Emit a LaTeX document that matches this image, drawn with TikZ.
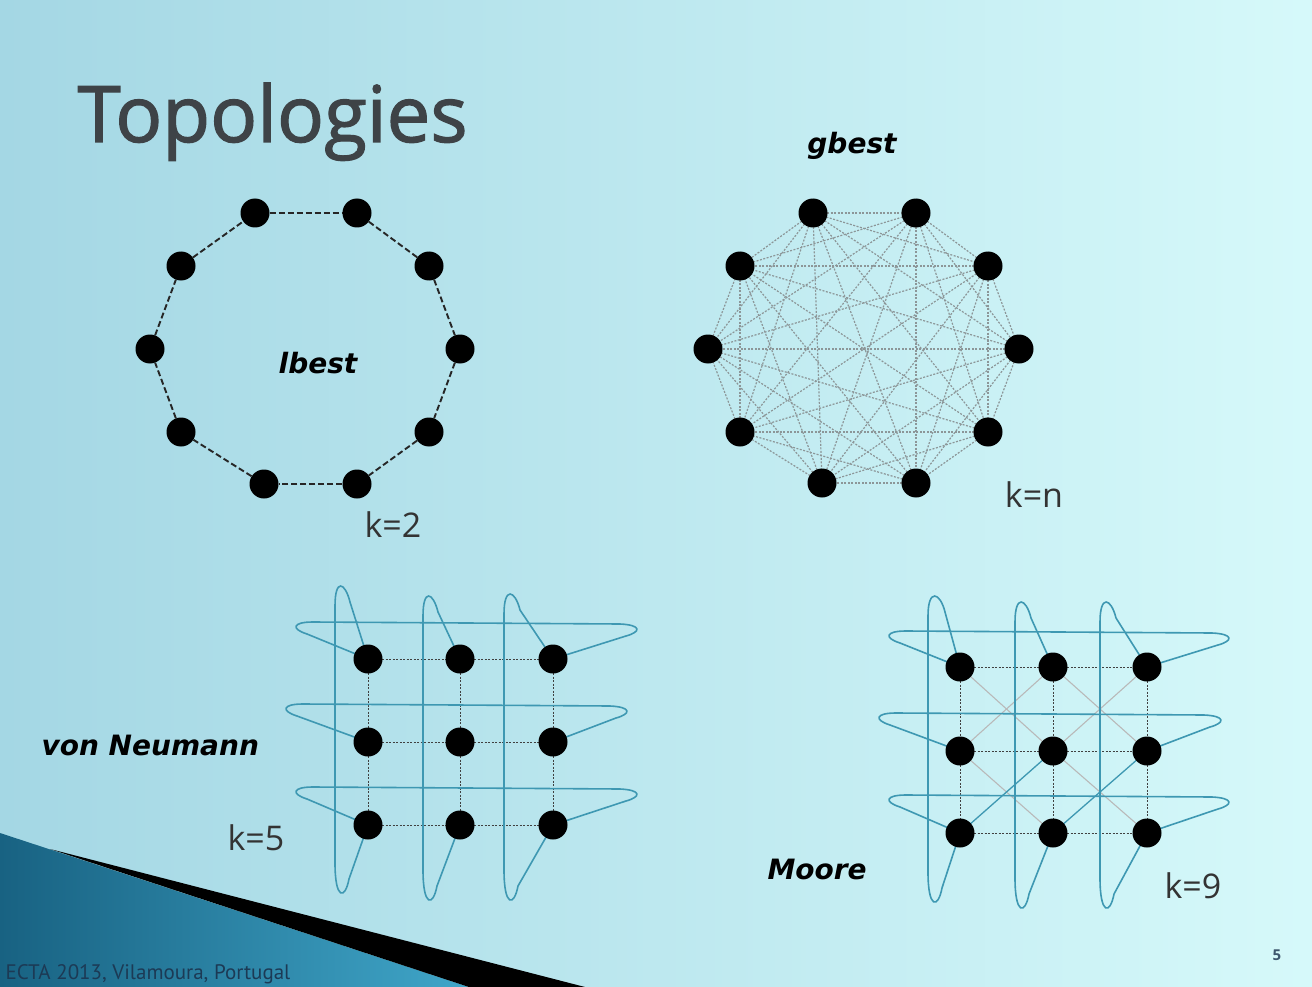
\documentclass[tikz,border=0pt]{standalone}
\usepackage{fontspec}
\setmainfont{Open Sans}
\newfontfamily\titlefont{Open Sans}[FakeBold=1.6]
\newfontfamily\labfont{DejaVu Sans}
\newfontfamily\footfont{PT Sans}
\usetikzlibrary{positioning,calc}

\definecolor{bgleft}{RGB}{164,215,228}
\definecolor{bgright}{RGB}{214,249,250}
\definecolor{wrapblue}{RGB}{62,152,178}
\definecolor{titlegray}{RGB}{62,67,71}
\definecolor{deepblue}{RGB}{24,98,130}
\definecolor{midblue}{RGB}{64,166,201}
\definecolor{footblue}{RGB}{28,58,85}
\definecolor{linkgray}{RGB}{140,150,152}

\pgfdeclarelayer{back}
\pgfdeclarelayer{links}
\pgfsetlayers{back,links,main}

\begin{document}
\begin{tikzpicture}[x=1pt,y=-1pt,
    dot/.style={circle,fill=black,inner sep=0pt,minimum size=29pt},
    ring/.style={dash pattern=on 6pt off 3pt,line width=1.9pt,black!85},
    full/.style={linkgray,dash pattern=on 2pt off 1.5pt,line width=1.2pt},
    mesh/.style={black!75,dash pattern=on 2pt off 1.5pt,line width=0.9pt},
    diag/.style={gray!55,line width=1.1pt},
    wrap/.style={wrapblue,line width=1.6pt},
    tag/.style={font=\labfont\bfseries\itshape\fontsize{28}{30}\selectfont},
    kval/.style={font=\fontsize{34}{36}\selectfont,text=black!80}
  ]
  \useasboundingbox (0,0) rectangle (1312,987);
  \begin{pgfonlayer}{back}
    \shade[left color=bgleft,right color=bgright] (0,0) rectangle (1312,987);
    \shade[left color=deepblue,right color=midblue] (0,833) -- (469,987) -- (0,987) -- cycle;
    \fill[black] (50,849) -- (585,987) -- (469,987) -- cycle;
  \end{pgfonlayer}

  \node[anchor=base west,text=titlegray,font=\titlefont\fontsize{78}{80}\selectfont] (title) at (74,142) {Topologies};

  % lbest ring
  \foreach \i/\x/\y in {1/255/213,2/357/213,3/429/266,4/460/349,5/429/432,
                        6/357/484,7/264/484,8/181/432,9/150/349,10/181/266}
    \node[dot] (l\i) at (\x,\y) {};
  % gbest ring
  \foreach \i/\x/\y in {1/813/213,2/916/213,3/988/266,4/1019/349,5/988/432,
                        6/916/483,7/822/483,8/740/432,9/708/349,10/740/266}
    \node[dot] (g\i) at (\x,\y) {};
  % 3x3 grids
  \foreach \r/\y in {1/659,2/742,3/825}
    \foreach \c/\x in {1/368,2/460,3/553}
      \node[dot] (v\r\c) at (\x,\y) {};
  \foreach \r/\y in {1/667,2/751,3/833}
    \foreach \c/\x in {1/960,2/1053,3/1147}
      \node[dot] (m\r\c) at (\x,\y) {};

  \begin{pgfonlayer}{links}
    \foreach \i in {1,...,10}{
      \pgfmathtruncatemacro\j{mod(\i,10)+1}
      \draw[ring] (l\i) -- (l\j);
    }
    \foreach \i in {1,...,9}{
      \pgfmathtruncatemacro\s{\i+1}
      \foreach \j in {\s,...,10}
        \draw[full] (g\i.center) -- (g\j.center);
    }
    \foreach \a/\b in {1/2,2/3}
      \foreach \k in {1,2,3}{
        \draw[mesh] (v\k\a.center) -- (v\k\b.center);
        \draw[mesh] (v\a\k.center) -- (v\b\k.center);
        \draw[mesh] (m\k\a.center) -- (m\k\b.center);
        \draw[mesh] (m\a\k.center) -- (m\b\k.center);
      }
    \foreach \a/\b in {11/22,22/33,12/23,21/32,21/12,22/13}
      \draw[diag] (m\a.center) -- (m\b.center);
    \foreach \a/\b in {31/22,32/23}
      \draw[wrap,line width=1.3pt] (m\a.center) -- (m\b.center);

    % wrap-around loops, columns then rows
    \foreach \c/\px/\py/\lx/\by in {1/342/582/335/893,2/430/592/423/900,3/512/590/504/900}
      \draw[wrap] (v1\c.center) -- ({\px+8},{\py+20})
        .. controls ({\px+3},{\py}) and ({\lx},{\py-4}) .. ({\lx},{\py+24})
        -- ({\lx},{\by-30})
        .. controls ({\lx},{\by+7}) and ({\lx+10},{\by+7}) .. ({\lx+14},{\by-14})
        -- (v3\c.center);
    \foreach \r/\lt/\ly/\rt in {1/295/622/638,2/285/704/628,3/295/787/638}
      \draw[wrap] (v\r1.center) -- ({\lt+12},{\ly+12})
        .. controls ({\lt-4},{\ly+7}) and ({\lt-3},{\ly}) .. ({\lt+18},{\ly})
        -- ({\rt-18},{\ly+2})
        .. controls ({\rt+4},{\ly+3}) and ({\rt+3},{\ly+10}) .. ({\rt-12},{\ly+14})
        -- (v\r3.center);
    \foreach \c/\px/\py/\lx/\by in {1/937/592/928/902,2/1023/598/1015/908,3/1108/598/1100/908}
      \draw[wrap] (m1\c.center) -- ({\px+8},{\py+20})
        .. controls ({\px+3},{\py}) and ({\lx},{\py-4}) .. ({\lx},{\py+24})
        -- ({\lx},{\by-30})
        .. controls ({\lx},{\by+7}) and ({\lx+10},{\by+7}) .. ({\lx+14},{\by-14})
        -- (m3\c.center);
    \foreach \r/\lt/\ly/\rt in {1/888/631/1230,2/878/713/1222,3/888/795/1230}
      \draw[wrap] (m\r1.center) -- ({\lt+12},{\ly+12})
        .. controls ({\lt-4},{\ly+7}) and ({\lt-3},{\ly}) .. ({\lt+18},{\ly})
        -- ({\rt-18},{\ly+2})
        .. controls ({\rt+4},{\ly+3}) and ({\rt+3},{\ly+10}) .. ({\rt-12},{\ly+14})
        -- (m\r3.center);
  \end{pgfonlayer}

  \node[tag,anchor=base] (lname) at (318,373) {lbest};
  \node[tag,anchor=base] (gname) at (852,154) {gbest};
  \node[tag,anchor=base west] (vname) at (38,755) {von Neumann};
  \node[tag,anchor=base west] (mname) at (764,879) {Moore};
  \node[kval,anchor=base] (k2) at (393,537) {k=2};
  \node[kval,anchor=base] (kn) at (1034,507) {k=n};
  \node[kval,anchor=base] (k5) at (256,850) {k=5};
  \node[kval,anchor=base] (k9) at (1193,898) {k=9};
  \node[anchor=base west,text=footblue,font=\footfont\fontsize{21}{23}\selectfont] (foot) at (2,979) {ECTA 2013, Vilamoura, Portugal};
  \node[anchor=base,text=footblue!85,font=\bfseries\fontsize{15}{16}\selectfont] (page) at (1277,960) {5};
\end{tikzpicture}
\end{document}
